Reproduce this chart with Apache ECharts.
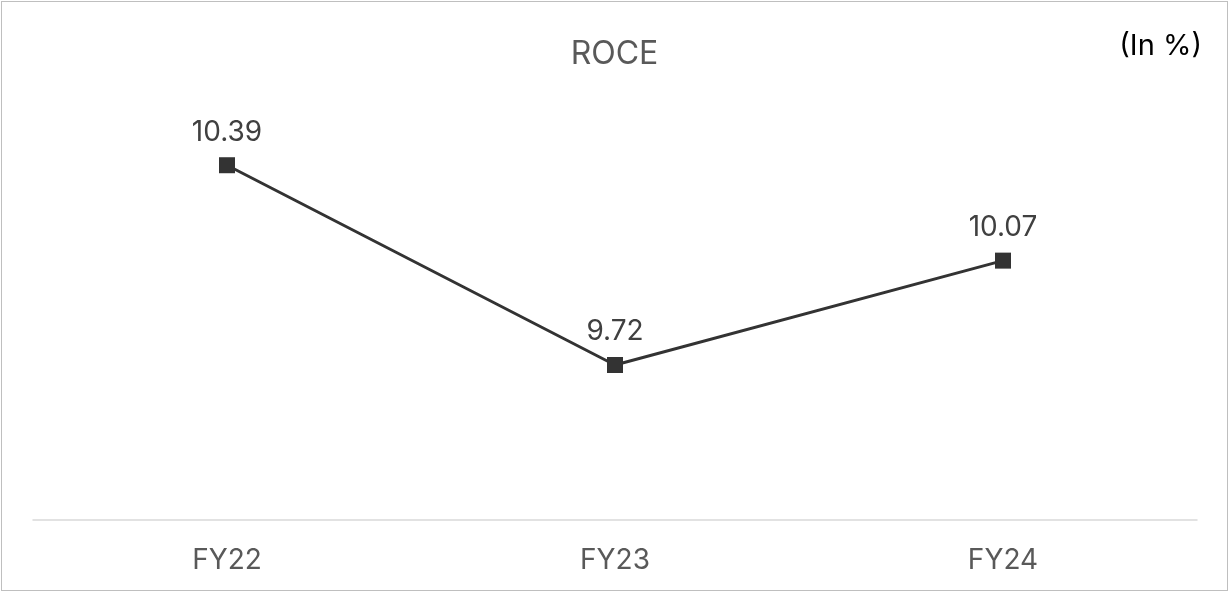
<!DOCTYPE html>
<html>
<head>
<meta charset="utf-8">
<script src="https://cdn.jsdelivr.net/npm/echarts@6/dist/echarts.min.js"></script>
<style>
  html, body { margin: 0; padding: 0; background: #fff; }
  #myChart { position: absolute; left: 1px; top: 1px; width: 1227px; height: 590px; box-sizing: border-box; border: 1px solid #bfbfbf; }
</style>
</head>
<body>
<div id="myChart"></div>
<script>
// chart data
var categories = ['FY22', 'FY23', 'FY24']
var roceValues = [10.39, 9.72, 10.07]

var font = 'Inter, "Noto Sans", sans-serif'
var chart = echarts.init(document.getElementById('myChart'))

chart.setOption({
  animation: false,
  title: {
    text: 'ROCE',
    left: 'center',
    top: 31,
    textStyle: { color: '#595959', fontSize: 32, fontWeight: 'normal', fontFamily: font }
  },
  graphic: [{
    type: 'text',
    right: 25,
    top: 30,
    style: { text: '(In %)', fill: '#000', fontSize: 29, fontFamily: font }
  }],
  grid: {
    left: 31,
    right: 30,
    top: 41,
    bottom: 70
  },
  xAxis: {
    type: 'category',
    data: categories,
    boundaryGap: true,
    axisLine: { lineStyle: { color: '#d9d9d9', width: 1.5 } },
    axisTick: { show: false },
    axisLabel: { color: '#595959', fontSize: 28, fontFamily: font, margin: 27 }
  },
  yAxis: {
    type: 'value',
    min: 9.2,
    max: 10.8,
    show: false,
    splitLine: { show: false }
  },
  series: [{
    name: 'ROCE',
    type: 'line',
    data: roceValues,
    symbol: 'rect',
    symbolSize: 16,
    lineStyle: { color: '#333333', width: 3 },
    itemStyle: { color: '#333333' },
    label: {
      show: true,
      position: 'top',
      distance: 11,
      color: '#404040',
      fontSize: 28,
      fontFamily: font,
      formatter: function (p) { return p.value.toFixed(2) }
    }
  }]
})
</script>
</body>
</html>
